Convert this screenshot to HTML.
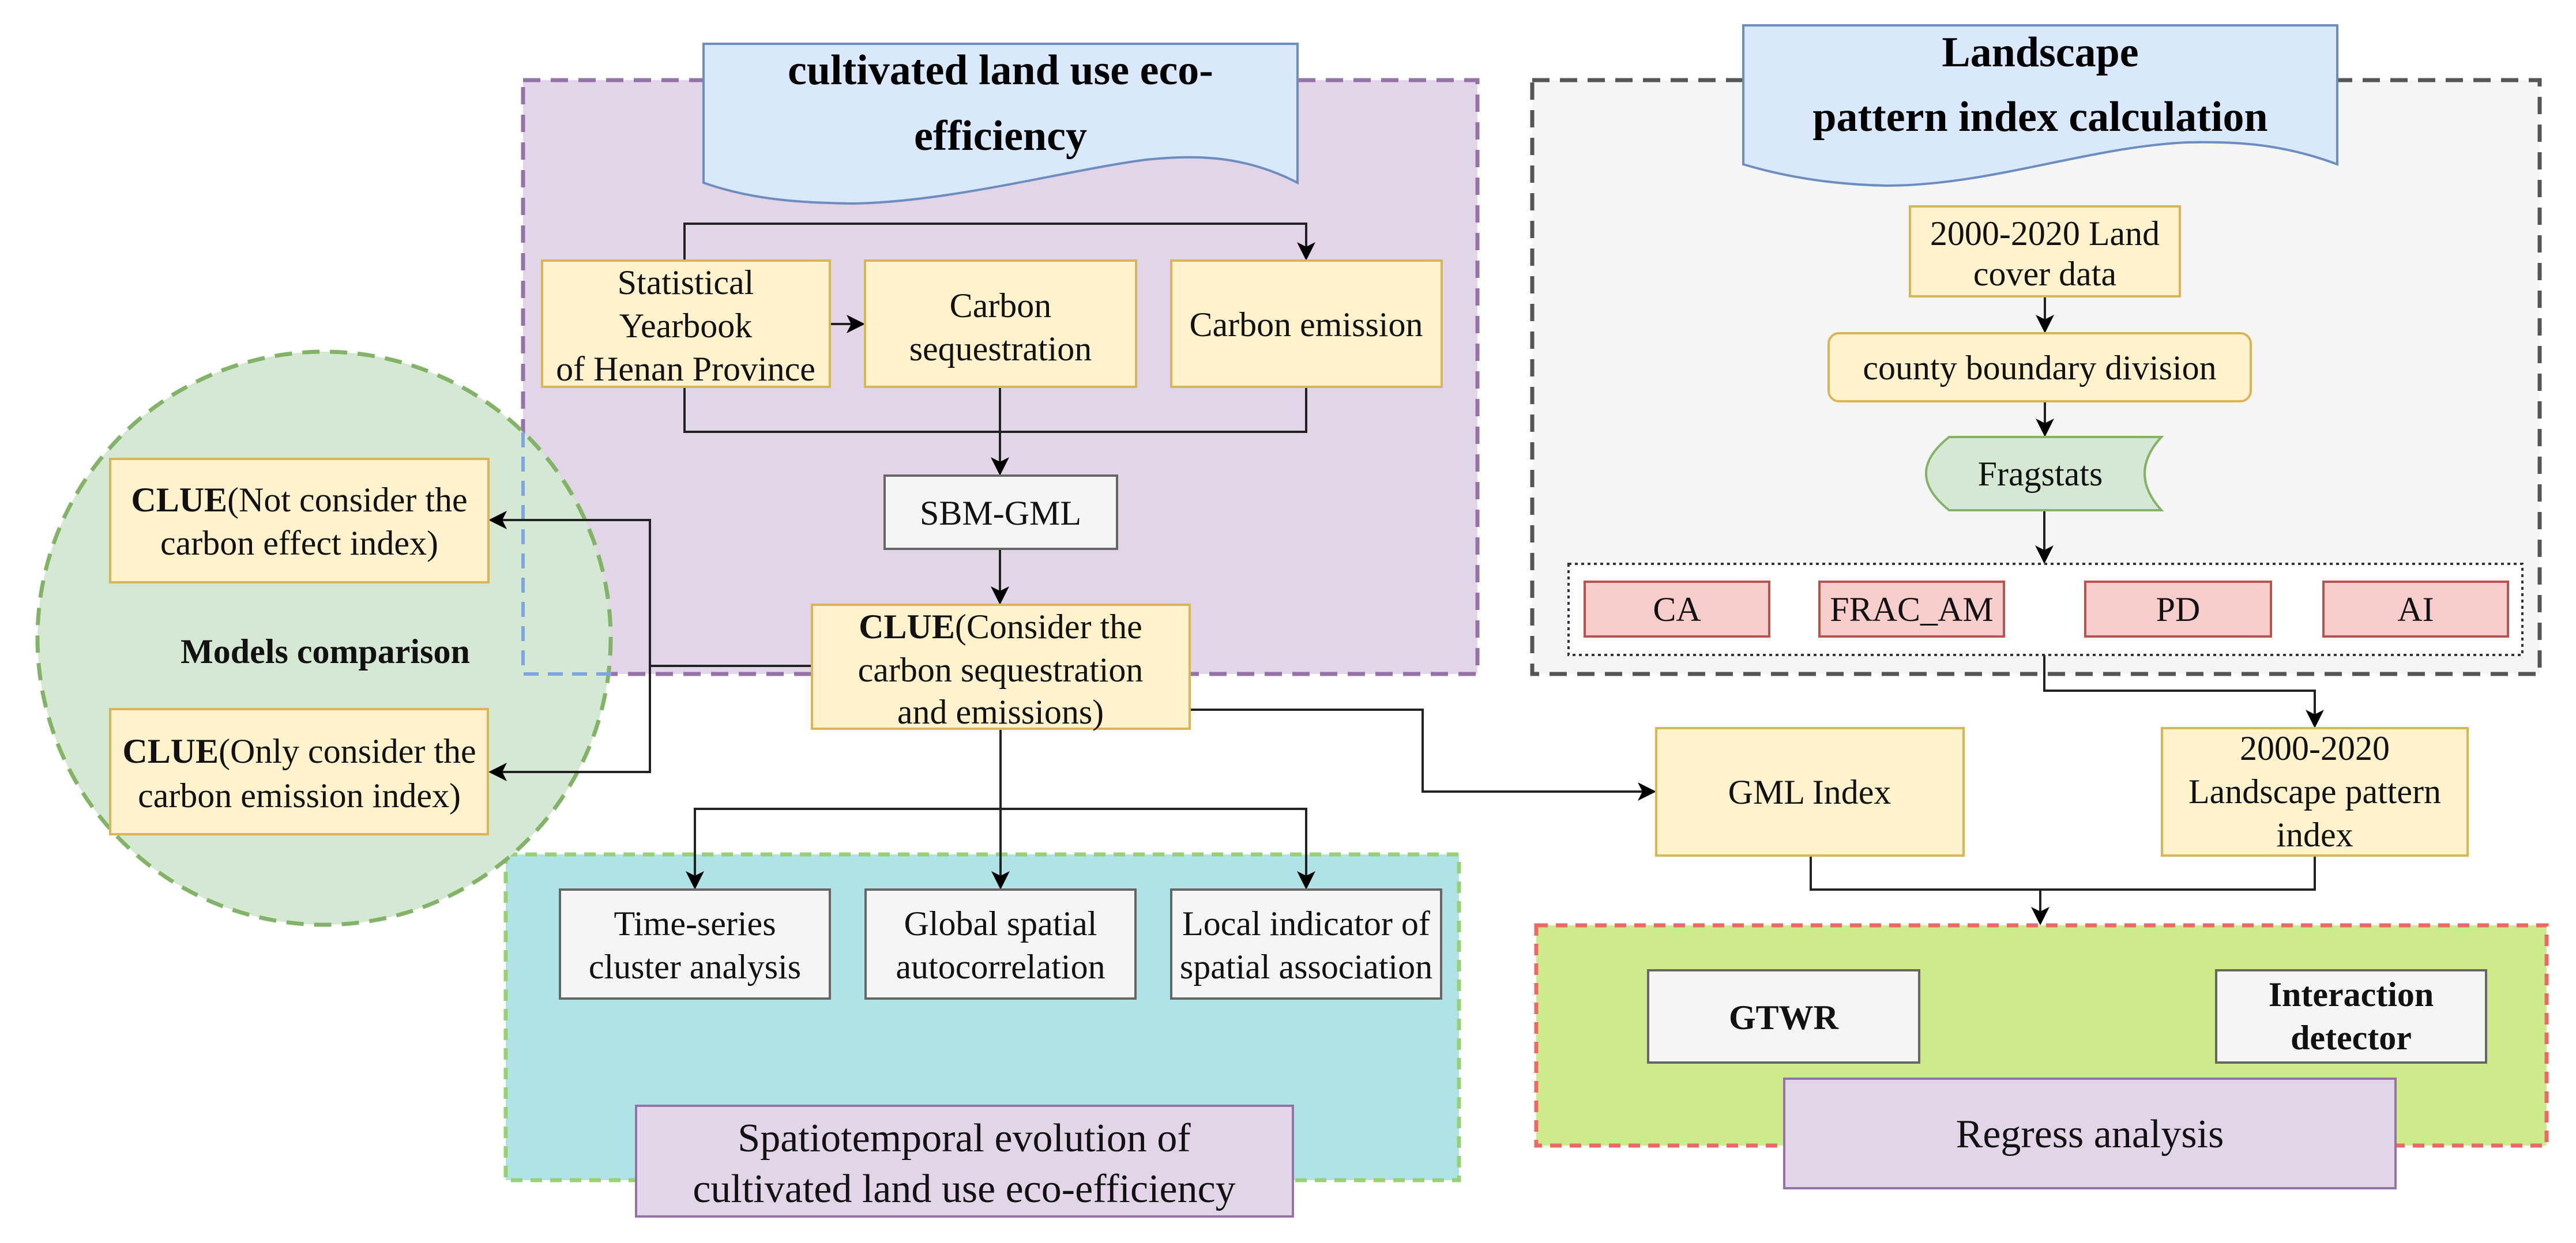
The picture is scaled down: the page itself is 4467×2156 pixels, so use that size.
<!DOCTYPE html>
<html><head><meta charset="utf-8"><style>html,body{margin:0;padding:0;background:#fff}svg{display:block}</style></head><body>
<svg width="4467" height="2156" viewBox="0 0 4467 2156" xmlns="http://www.w3.org/2000/svg" font-family="Liberation Serif, serif">
<defs><marker id="a" markerWidth="8" markerHeight="8" refX="7" refY="4" orient="auto" markerUnits="strokeWidth"><path d="M0,0 L8,4 L0,8 L2,4 Z" fill="#000"/></marker></defs>
<!-- purple box -->
<rect x="907" y="139" width="1655" height="1030" fill="#e1d5e7" stroke="#9673a6" stroke-width="7" stroke-dasharray="30,18"/>
<!-- gray box -->
<rect x="2657" y="139" width="1747" height="1030" fill="#f5f5f5" stroke="#555" stroke-width="7" stroke-dasharray="30,18"/>
<!-- teal box -->
<rect x="877" y="1482" width="1653" height="565" fill="#b0e3e6" stroke="#97d077" stroke-width="7" stroke-dasharray="20,14"/>
<!-- green box -->
<rect x="2664" y="1605" width="1752" height="382" fill="#cdeb8b" stroke="#ea6b66" stroke-width="7" stroke-dasharray="20,14"/>
<!-- circle -->
<circle cx="562" cy="1107" r="497" fill="#d5e8d4" stroke="#82b366" stroke-width="7" stroke-dasharray="30,18"/>
<path d="M907,750 V1169 H1063" fill="none" stroke="#7ea6e0" stroke-width="6" stroke-dasharray="26,16"/>
<!-- headers -->
<path d="M1220,76 H2250 V317 C2150,265 2060,270 1987,277 C1850,295 1650,350 1481,353 C1380,352 1300,345 1220,317 Z" fill="#dae8fc" stroke="#6c8ebf" stroke-width="4"/>
<text x="1735" y="146" font-size="74" font-weight="bold" text-anchor="middle">cultivated land use eco-</text>
<text x="1735" y="260" font-size="74" font-weight="bold" text-anchor="middle">efficiency</text>
<path d="M3023,44 H4053 V285 C3960,250 3880,245 3792,247 C3620,255 3450,322 3271,322 C3170,320 3090,305 3023,285 Z" fill="#dae8fc" stroke="#6c8ebf" stroke-width="4"/>
<text x="3538" y="115" font-size="74" font-weight="bold" text-anchor="middle">Landscape</text>
<text x="3538" y="227" font-size="74" font-weight="bold" text-anchor="middle">pattern index calculation</text>
<!-- connectors -->
<g fill="none" stroke="#222" stroke-width="4">
<path d="M1187,452 V388 H2265 V448" marker-end="url(#a)"/>
<path d="M1439,562 H1496" marker-end="url(#a)"/>
<path d="M1187,671 V749 H2265 V671"/>
<path d="M1734,671 V821" marker-end="url(#a)"/>
<path d="M1734,952 V1045" marker-end="url(#a)"/>
<path d="M1408,1155 H1127 V902 H851" marker-end="url(#a)"/>
<path d="M1127,1155 V1339 H851" marker-end="url(#a)"/>
<path d="M2063,1231 H2467 V1373 H2868" marker-end="url(#a)"/>
<path d="M1735,1264 V1539" marker-end="url(#a)"/>
<path d="M1205,1539 V1403 H2265 V1539" marker-end="url(#a)"/>
<path d="M1205,1403 V1539" marker-end="url(#a)"/>
<path d="M3545,1136 V1198 H4014 V1259" marker-end="url(#a)"/>
<path d="M3140,1484 V1543 H4014 V1484"/>
<path d="M3538,1543 V1601" marker-end="url(#a)"/>
<path d="M3546,514 V574" marker-end="url(#a)"/>
<path d="M3546,696 V754" marker-end="url(#a)"/>
<path d="M3545,885 V974" marker-end="url(#a)"/>
</g>
<!-- yellow boxes -->
<g fill="#fff2cc" stroke="#d6b656" stroke-width="4">
<rect x="940" y="452" width="499" height="219"/>
<rect x="1500" y="452" width="470" height="219"/>
<rect x="2031" y="452" width="469" height="219"/>
<rect x="1408" y="1049" width="655" height="215"/>
<rect x="191" y="796" width="656" height="214"/>
<rect x="191" y="1230" width="655" height="217"/>
<rect x="2872" y="1263" width="533" height="221"/>
<rect x="3749" y="1263" width="530" height="221"/>
<rect x="3312" y="358" width="468" height="156"/>
<rect x="3171" y="578" width="732" height="118" rx="18"/>
</g>
<g fill="#f5f5f5" stroke="#666" stroke-width="4">
<rect x="1534" y="825" width="403" height="127"/>
<rect x="971" y="1543" width="468" height="189"/>
<rect x="1501" y="1543" width="468" height="189"/>
<rect x="2031" y="1543" width="468" height="189"/>
<rect x="2858" y="1683" width="470" height="160"/>
<rect x="3843" y="1683" width="468" height="160"/>
</g>
<g fill="#e1d5e7" stroke="#9673a6" stroke-width="4">
<rect x="1103" y="1918" width="1139" height="192"/>
<rect x="3094" y="1871" width="1060" height="190"/>
</g>
<path d="M3380,758 H3748 Q3690,821 3748,885 H3380 Q3300,821 3380,758 Z" fill="#d5e8d4" stroke="#82b366" stroke-width="4"/>
<rect x="2720" y="978" width="1654" height="158" fill="#fff" stroke="#333" stroke-width="4" stroke-dasharray="5,6"/>
<g fill="#f8cecc" stroke="#b85450" stroke-width="4">
<rect x="2748" y="1009" width="320" height="95"/>
<rect x="3155" y="1009" width="320" height="95"/>
<rect x="3616" y="1009" width="322" height="95"/>
<rect x="4029" y="1009" width="320" height="95"/>
</g>
<!-- texts -->
<g font-size="60" text-anchor="middle" fill="#111">
<text x="1189" y="510">Statistical</text><text x="1189" y="585">Yearbook</text><text x="1189" y="660">of Henan Province</text>
<text x="1735" y="550">Carbon</text><text x="1735" y="625">sequestration</text>
<text x="2265" y="583">Carbon emission</text>
<text x="1735" y="910">SBM-GML</text>
<text x="1735" y="1107"><tspan font-weight="bold">CLUE</tspan>(Consider the</text>
<text x="1735" y="1182">carbon sequestration</text>
<text x="1735" y="1255">and emissions)</text>
<text x="519" y="887"><tspan font-weight="bold">CLUE</tspan>(Not consider the</text>
<text x="519" y="962">carbon effect index)</text>
<text x="564" y="1150" font-weight="bold">Models comparison</text>
<text x="519" y="1323"><tspan font-weight="bold">CLUE</tspan>(Only consider the</text>
<text x="519" y="1400">carbon emission index)</text>
<text x="3546" y="425">2000-2020 Land</text><text x="3546" y="495">cover data</text>
<text x="3537" y="658">county boundary division</text>
<text x="3538" y="842">Fragstats</text>
<text x="2908" y="1077">CA</text><text x="3315" y="1077">FRAC_AM</text><text x="3777" y="1077">PD</text><text x="4189" y="1077">AI</text>
<text x="3138" y="1394">GML Index</text>
<text x="4014" y="1318">2000-2020</text><text x="4014" y="1393">Landscape pattern</text><text x="4014" y="1468">index</text>
<text x="1205" y="1622">Time-series</text><text x="1205" y="1697">cluster analysis</text>
<text x="1735" y="1622">Global spatial</text><text x="1735" y="1697">autocorrelation</text>
<text x="2265" y="1622">Local indicator of</text><text x="2265" y="1697">spatial association</text>
<text x="3093" y="1785" font-weight="bold">GTWR</text>
<text x="4077" y="1745" font-weight="bold">Interaction</text><text x="4077" y="1820" font-weight="bold">detector</text>
<text x="1672" y="1997" font-size="70">Spatiotemporal evolution of</text>
<text x="1672" y="2085" font-size="70">cultivated land use eco-efficiency</text>
<text x="3624" y="1990" font-size="70">Regress analysis</text>
</g>
</svg>
</body></html>
